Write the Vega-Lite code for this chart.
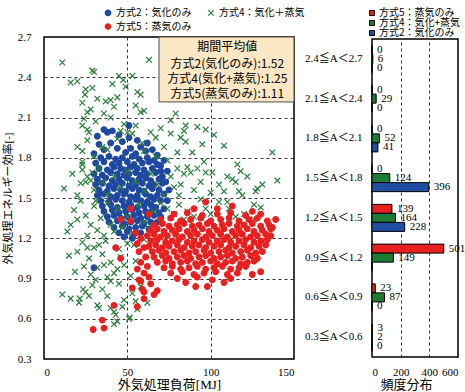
{
"$schema":"https://vega.github.io/schema/vega-lite/v6.json",
"padding":{"left":1,"top":6,"right":0,"bottom":0},
"spacing":78,
"bounds":"flush",
"center":true,
"resolve":{"scale":{"fill":"independent","stroke":"independent","shape":"independent","x":"independent","y":"independent"},"legend":{"fill":"independent","stroke":"independent","shape":"independent"}},
"config":{"view":{"stroke":"#000","strokeWidth":1.5},
"axis":{"ticks":false,"domain":false,"labelFont":"Liberation Serif","labelFontSize":11,"labelColor":"#000","titleFont":"Liberation Serif, Noto Sans CJK JP","titleFontWeight":"normal","titleColor":"#000","titleFontSize":13,"gridColor":"#333","gridDash":[3,3],"gridOpacity":1,"gridWidth":1}},
"datasets":{
"pts":[
{"s":"2","x":51,"y":2.04},{"s":"2","x":41,"y":2.0},{"s":"2","x":38,"y":1.99},{"s":"2","x":32,"y":1.96},{"s":"2","x":51,"y":1.95},{"s":"2","x":36,"y":2.01},{"s":"2","x":45,"y":1.97},{"s":"2","x":56,"y":1.93},{"s":"2","x":62,"y":1.91},{"s":"2","x":47,"y":1.92},{"s":"2","x":33,"y":1.9},{"s":"2","x":40,"y":1.91},{"s":"2","x":58,"y":1.88},{"s":"2","x":65,"y":1.86},{"s":"2","x":68,"y":1.82},{"s":"2","x":44,"y":1.87},{"s":"2","x":52,"y":1.87},{"s":"2","x":36,"y":1.86},{"s":"2","x":30,"y":1.83},{"s":"2","x":49,"y":1.84},{"s":"2","x":55,"y":1.83},{"s":"2","x":61,"y":1.85},{"s":"2","x":72,"y":1.78},{"s":"2","x":70,"y":1.74},{"s":"2","x":74,"y":1.7},{"s":"2","x":73,"y":1.62},{"s":"2","x":75,"y":1.56},{"s":"2","x":74,"y":1.48},{"s":"2","x":72,"y":1.42},{"s":"2","x":70,"y":1.36},{"s":"2","x":68,"y":1.32},
{"s":"2","x":34,"y":1.8},{"s":"2","x":39,"y":1.81},{"s":"2","x":43,"y":1.79},{"s":"2","x":47,"y":1.8},{"s":"2","x":53,"y":1.81},{"s":"2","x":57,"y":1.79},{"s":"2","x":62,"y":1.8},{"s":"2","x":66,"y":1.78},
{"s":"2","x":31,"y":1.76},{"s":"2","x":36,"y":1.77},{"s":"2","x":41,"y":1.75},{"s":"2","x":45,"y":1.76},{"s":"2","x":50,"y":1.77},{"s":"2","x":54,"y":1.75},{"s":"2","x":59,"y":1.76},{"s":"2","x":63,"y":1.77},{"s":"2","x":68,"y":1.75},
{"s":"2","x":33,"y":1.72},{"s":"2","x":38,"y":1.71},{"s":"2","x":42,"y":1.73},{"s":"2","x":46,"y":1.72},{"s":"2","x":49,"y":1.71},{"s":"2","x":52,"y":1.73},{"s":"2","x":56,"y":1.72},{"s":"2","x":60,"y":1.71},{"s":"2","x":65,"y":1.72},{"s":"2","x":70,"y":1.7},
{"s":"2","x":30,"y":1.68},{"s":"2","x":35,"y":1.67},{"s":"2","x":40,"y":1.69},{"s":"2","x":44,"y":1.68},{"s":"2","x":48,"y":1.67},{"s":"2","x":51,"y":1.68},{"s":"2","x":55,"y":1.69},{"s":"2","x":58,"y":1.67},{"s":"2","x":62,"y":1.68},{"s":"2","x":67,"y":1.69},{"s":"2","x":71,"y":1.66},
{"s":"2","x":32,"y":1.64},{"s":"2","x":37,"y":1.65},{"s":"2","x":41,"y":1.63},{"s":"2","x":45,"y":1.64},{"s":"2","x":50,"y":1.65},{"s":"2","x":53,"y":1.63},{"s":"2","x":57,"y":1.64},{"s":"2","x":61,"y":1.65},{"s":"2","x":64,"y":1.63},{"s":"2","x":69,"y":1.64},
{"s":"2","x":31,"y":1.6},{"s":"2","x":35,"y":1.61},{"s":"2","x":39,"y":1.59},{"s":"2","x":43,"y":1.6},{"s":"2","x":47,"y":1.61},{"s":"2","x":51,"y":1.59},{"s":"2","x":55,"y":1.6},{"s":"2","x":59,"y":1.61},{"s":"2","x":63,"y":1.59},{"s":"2","x":66,"y":1.6},{"s":"2","x":71,"y":1.61},
{"s":"2","x":33,"y":1.56},{"s":"2","x":38,"y":1.55},{"s":"2","x":42,"y":1.57},{"s":"2","x":46,"y":1.56},{"s":"2","x":49,"y":1.55},{"s":"2","x":53,"y":1.57},{"s":"2","x":57,"y":1.56},{"s":"2","x":60,"y":1.55},{"s":"2","x":65,"y":1.57},{"s":"2","x":69,"y":1.56},
{"s":"2","x":32,"y":1.52},{"s":"2","x":36,"y":1.53},{"s":"2","x":40,"y":1.51},{"s":"2","x":44,"y":1.52},{"s":"2","x":48,"y":1.53},{"s":"2","x":52,"y":1.51},{"s":"2","x":56,"y":1.52},{"s":"2","x":61,"y":1.53},{"s":"2","x":64,"y":1.51},{"s":"2","x":68,"y":1.52},{"s":"2","x":72,"y":1.53},
{"s":"2","x":34,"y":1.48},{"s":"2","x":39,"y":1.47},{"s":"2","x":43,"y":1.49},{"s":"2","x":47,"y":1.48},{"s":"2","x":51,"y":1.47},{"s":"2","x":55,"y":1.49},{"s":"2","x":58,"y":1.48},{"s":"2","x":62,"y":1.47},{"s":"2","x":66,"y":1.49},{"s":"2","x":70,"y":1.48},
{"s":"2","x":35,"y":1.44},{"s":"2","x":40,"y":1.45},{"s":"2","x":44,"y":1.43},{"s":"2","x":48,"y":1.44},{"s":"2","x":52,"y":1.45},{"s":"2","x":56,"y":1.43},{"s":"2","x":60,"y":1.44},{"s":"2","x":64,"y":1.45},{"s":"2","x":67,"y":1.43},
{"s":"2","x":36,"y":1.4},{"s":"2","x":41,"y":1.41},{"s":"2","x":45,"y":1.39},{"s":"2","x":49,"y":1.4},{"s":"2","x":53,"y":1.41},{"s":"2","x":57,"y":1.39},{"s":"2","x":61,"y":1.4},{"s":"2","x":65,"y":1.41},{"s":"2","x":69,"y":1.39},
{"s":"2","x":38,"y":1.36},{"s":"2","x":42,"y":1.37},{"s":"2","x":46,"y":1.35},{"s":"2","x":50,"y":1.36},{"s":"2","x":54,"y":1.37},{"s":"2","x":58,"y":1.35},{"s":"2","x":62,"y":1.36},{"s":"2","x":66,"y":1.37},
{"s":"2","x":39,"y":1.32},{"s":"2","x":44,"y":1.33},{"s":"2","x":48,"y":1.31},{"s":"2","x":52,"y":1.32},{"s":"2","x":56,"y":1.33},{"s":"2","x":60,"y":1.31},{"s":"2","x":64,"y":1.32},
{"s":"2","x":42,"y":1.28},{"s":"2","x":47,"y":1.29},{"s":"2","x":51,"y":1.27},{"s":"2","x":55,"y":1.28},{"s":"2","x":59,"y":1.29},{"s":"2","x":63,"y":1.27},
{"s":"2","x":45,"y":1.24},{"s":"2","x":50,"y":1.25},{"s":"2","x":54,"y":1.23},{"s":"2","x":58,"y":1.24},{"s":"2","x":48,"y":1.21},{"s":"2","x":53,"y":1.2},{"s":"2","x":33,"y":1.53},{"s":"2","x":30,"y":0.98},
{"s":"4","x":11,"y":2.51},{"s":"4","x":63,"y":2.53},{"s":"4","x":29,"y":2.45},{"s":"4","x":30,"y":2.44},{"s":"4","x":45,"y":2.41},{"s":"4","x":53,"y":2.41},{"s":"4","x":47.5,"y":2.38},{"s":"4","x":16,"y":2.36},{"s":"4","x":20,"y":2.37},{"s":"4","x":25,"y":2.31},{"s":"4","x":29,"y":2.32},{"s":"4","x":41,"y":2.35},{"s":"4","x":49,"y":2.33},{"s":"4","x":24.6,"y":2.27},{"s":"4","x":32,"y":2.24},{"s":"4","x":23,"y":2.21},{"s":"4","x":37,"y":2.22},{"s":"4","x":40,"y":2.23},{"s":"4","x":44,"y":2.25},{"s":"4","x":56,"y":2.29},{"s":"4","x":58,"y":2.27},{"s":"4","x":55,"y":2.19},{"s":"4","x":58,"y":2.14},{"s":"4","x":60,"y":2.15},{"s":"4","x":42,"y":2.18},{"s":"4","x":26,"y":2.14},{"s":"4","x":28,"y":2.16},{"s":"4","x":79,"y":2.13},
{"s":"4","x":24,"y":2.09},{"s":"4","x":36,"y":2.13},{"s":"4","x":40,"y":2.1},{"s":"4","x":23,"y":2.04},{"s":"4","x":26,"y":2.01},{"s":"4","x":27,"y":1.99},{"s":"4","x":31,"y":2.07},{"s":"4","x":48,"y":2.05},{"s":"4","x":50,"y":1.99},{"s":"4","x":55,"y":2.04},{"s":"4","x":53,"y":1.98},{"s":"4","x":46,"y":2.0},{"s":"4","x":44,"y":1.94},{"s":"4","x":20,"y":1.88},{"s":"4","x":23,"y":1.85},{"s":"4","x":35,"y":1.88},{"s":"4","x":38,"y":1.86},{"s":"4","x":59,"y":1.91},{"s":"4","x":67,"y":1.81},{"s":"4","x":76,"y":2.08},{"s":"4","x":85,"y":2.04},{"s":"4","x":92,"y":2.03},{"s":"4","x":97,"y":2.01},{"s":"4","x":76,"y":1.98},{"s":"4","x":84,"y":2.0},{"s":"4","x":102,"y":1.97},{"s":"4","x":67,"y":1.95},{"s":"4","x":85,"y":1.92},{"s":"4","x":108,"y":1.89},{"s":"4","x":80,"y":1.84},{"s":"4","x":89,"y":1.84},{"s":"4","x":137,"y":1.84},{"s":"4","x":64,"y":1.99},{"s":"4","x":70,"y":2.02},{"s":"4","x":26,"y":1.93},{"s":"4","x":30,"y":1.81},{"s":"4","x":60,"y":1.85},{"s":"4","x":72,"y":1.88},{"s":"4","x":95,"y":1.9},{"s":"4","x":82,"y":1.95},
{"s":"4","x":23,"y":1.75},{"s":"4","x":23,"y":1.71},{"s":"4","x":22,"y":1.61},{"s":"4","x":25,"y":1.62},{"s":"4","x":28,"y":1.63},{"s":"4","x":29,"y":1.69},{"s":"4","x":12,"y":1.57},{"s":"4","x":23,"y":1.77},{"s":"4","x":26,"y":1.66},{"s":"4","x":30,"y":1.56},{"s":"4","x":33,"y":1.72},{"s":"4","x":35,"y":1.62},{"s":"4","x":38,"y":1.53},{"s":"4","x":42,"y":1.66},{"s":"4","x":46,"y":1.58},{"s":"4","x":50,"y":1.7},{"s":"4","x":55,"y":1.62},{"s":"4","x":60,"y":1.55},{"s":"4","x":64,"y":1.68},{"s":"4","x":68,"y":1.6},{"s":"4","x":72,"y":1.52},{"s":"4","x":76,"y":1.66},{"s":"4","x":80,"y":1.72},{"s":"4","x":84,"y":1.68},{"s":"4","x":88,"y":1.69},{"s":"4","x":92,"y":1.72},{"s":"4","x":86,"y":1.73},{"s":"4","x":96,"y":1.77},{"s":"4","x":97,"y":1.69},{"s":"4","x":101,"y":1.69},{"s":"4","x":105,"y":1.6},{"s":"4","x":82,"y":1.6},{"s":"4","x":81,"y":1.52},{"s":"4","x":116,"y":1.75},{"s":"4","x":118,"y":1.7},{"s":"4","x":122,"y":1.66},{"s":"4","x":140,"y":1.63},{"s":"4","x":113,"y":1.64},{"s":"4","x":115,"y":1.62},{"s":"4","x":128,"y":1.57},{"s":"4","x":127,"y":1.55},{"s":"4","x":117,"y":1.55},{"s":"4","x":119,"y":1.52},{"s":"4","x":78,"y":1.58},{"s":"4","x":74,"y":1.78},{"s":"4","x":90,"y":1.56},{"s":"4","x":94,"y":1.62},{"s":"4","x":100,"y":1.54},{"s":"4","x":108,"y":1.55},{"s":"4","x":110,"y":1.66},{"s":"4","x":131,"y":1.6},{"s":"4","x":20,"y":1.52},{"s":"4","x":17,"y":1.68},
{"s":"4","x":18,"y":1.41},{"s":"4","x":14,"y":1.25},{"s":"4","x":20,"y":1.34},{"s":"4","x":25,"y":1.37},{"s":"4","x":28,"y":1.3},{"s":"4","x":30,"y":1.44},{"s":"4","x":32,"y":1.26},{"s":"4","x":34,"y":1.35},{"s":"4","x":36,"y":1.22},{"s":"4","x":40,"y":1.3},{"s":"4","x":44,"y":1.42},{"s":"4","x":47,"y":1.28},{"s":"4","x":50,"y":1.36},{"s":"4","x":53,"y":1.24},{"s":"4","x":57,"y":1.45},{"s":"4","x":60,"y":1.32},{"s":"4","x":63,"y":1.27},{"s":"4","x":66,"y":1.4},{"s":"4","x":70,"y":1.46},{"s":"4","x":74,"y":1.42},{"s":"4","x":78,"y":1.38},{"s":"4","x":81,"y":1.45},{"s":"4","x":86,"y":1.4},{"s":"4","x":94,"y":1.49},{"s":"4","x":97,"y":1.42},{"s":"4","x":105,"y":1.47},{"s":"4","x":110,"y":1.47},{"s":"4","x":111,"y":1.42},{"s":"4","x":126,"y":1.45},{"s":"4","x":130,"y":1.43},{"s":"4","x":120,"y":1.38},{"s":"4","x":115,"y":1.36},{"s":"4","x":90,"y":1.36},{"s":"4","x":84,"y":1.34},{"s":"4","x":126,"y":1.34},{"s":"4","x":100,"y":1.38},{"s":"4","x":22,"y":1.48},{"s":"4","x":26,"y":1.22},{"s":"4","x":38,"y":1.46},{"s":"4","x":42,"y":1.25},{"s":"4","x":31,"y":1.48},{"s":"4","x":16,"y":1.3},
{"s":"4","x":18.6,"y":0.95},{"s":"4","x":24,"y":0.99},{"s":"4","x":20,"y":1.1},{"s":"4","x":23,"y":1.17},{"s":"4","x":27,"y":1.05},{"s":"4","x":30,"y":1.13},{"s":"4","x":32,"y":0.98},{"s":"4","x":35,"y":1.08},{"s":"4","x":37,"y":1.18},{"s":"4","x":40,"y":1.02},{"s":"4","x":42,"y":0.94},{"s":"4","x":45,"y":1.12},{"s":"4","x":48,"y":1.0},{"s":"4","x":50,"y":1.16},{"s":"4","x":52,"y":0.92},{"s":"4","x":28,"y":0.93},{"s":"4","x":33,"y":1.15},{"s":"4","x":38,"y":0.91},{"s":"4","x":46,"y":1.06},{"s":"4","x":26,"y":1.13},{"s":"4","x":15,"y":1.07},{"s":"4","x":36,"y":1.0},{"s":"4","x":44,"y":0.97},{"s":"4","x":55,"y":1.03},{"s":"4","x":60,"y":1.19},{"s":"4","x":54,"y":1.15},
{"s":"4","x":11,"y":0.78},{"s":"4","x":16,"y":0.75},{"s":"4","x":21.5,"y":0.75},{"s":"4","x":23.5,"y":0.82},{"s":"4","x":25,"y":0.8},{"s":"4","x":32,"y":0.7},{"s":"4","x":42,"y":0.65},{"s":"4","x":51.5,"y":0.61},{"s":"4","x":21,"y":0.72},{"s":"4","x":33,"y":0.68},{"s":"4","x":40,"y":0.68},{"s":"4","x":43,"y":0.63},{"s":"4","x":51,"y":0.6},{"s":"4","x":62,"y":0.72},{"s":"4","x":56,"y":0.67},{"s":"4","x":29,"y":0.85},{"s":"4","x":35,"y":0.82},{"s":"4","x":38,"y":0.77},{"s":"4","x":45,"y":0.86},{"s":"4","x":48,"y":0.74},{"s":"4","x":53,"y":0.79},{"s":"4","x":58,"y":0.84},{"s":"4","x":47,"y":0.69},{"s":"4","x":55,"y":0.73},{"s":"4","x":40,"y":0.88},{"s":"4","x":31,"y":0.89},{"s":"4","x":27,"y":0.77},{"s":"4","x":42,"y":0.56},{"s":"4","x":44,"y":0.58},
{"s":"5","x":78,"y":1.38},{"s":"5","x":86,"y":1.39},{"s":"5","x":95,"y":1.37},{"s":"5","x":104,"y":1.38},{"s":"5","x":112,"y":1.39},{"s":"5","x":121,"y":1.37},{"s":"5","x":130,"y":1.38},
{"s":"5","x":70,"y":1.34},{"s":"5","x":76,"y":1.35},{"s":"5","x":82,"y":1.33},{"s":"5","x":88,"y":1.34},{"s":"5","x":94,"y":1.35},{"s":"5","x":100,"y":1.33},{"s":"5","x":106,"y":1.34},{"s":"5","x":111,"y":1.35},{"s":"5","x":117,"y":1.33},{"s":"5","x":123,"y":1.34},{"s":"5","x":128,"y":1.35},{"s":"5","x":134,"y":1.33},
{"s":"5","x":66,"y":1.3},{"s":"5","x":71,"y":1.31},{"s":"5","x":75,"y":1.29},{"s":"5","x":80,"y":1.3},{"s":"5","x":84,"y":1.31},{"s":"5","x":89,"y":1.29},{"s":"5","x":93,"y":1.3},{"s":"5","x":98,"y":1.31},{"s":"5","x":102,"y":1.29},{"s":"5","x":107,"y":1.3},{"s":"5","x":111,"y":1.31},{"s":"5","x":116,"y":1.29},{"s":"5","x":120,"y":1.3},{"s":"5","x":125,"y":1.31},{"s":"5","x":130,"y":1.29},{"s":"5","x":135,"y":1.3},
{"s":"5","x":64,"y":1.26},{"s":"5","x":68,"y":1.27},{"s":"5","x":72,"y":1.25},{"s":"5","x":77,"y":1.26},{"s":"5","x":81,"y":1.27},{"s":"5","x":86,"y":1.25},{"s":"5","x":90,"y":1.26},{"s":"5","x":95,"y":1.27},{"s":"5","x":99,"y":1.25},{"s":"5","x":104,"y":1.26},{"s":"5","x":108,"y":1.27},{"s":"5","x":113,"y":1.25},{"s":"5","x":117,"y":1.26},{"s":"5","x":122,"y":1.27},{"s":"5","x":126,"y":1.25},{"s":"5","x":131,"y":1.26},{"s":"5","x":136,"y":1.27},
{"s":"5","x":62,"y":1.22},{"s":"5","x":66,"y":1.23},{"s":"5","x":70,"y":1.21},{"s":"5","x":74,"y":1.22},{"s":"5","x":79,"y":1.23},{"s":"5","x":83,"y":1.21},{"s":"5","x":88,"y":1.22},{"s":"5","x":92,"y":1.23},{"s":"5","x":97,"y":1.21},{"s":"5","x":101,"y":1.22},{"s":"5","x":106,"y":1.23},{"s":"5","x":110,"y":1.21},{"s":"5","x":115,"y":1.22},{"s":"5","x":119,"y":1.23},{"s":"5","x":124,"y":1.21},{"s":"5","x":128,"y":1.22},{"s":"5","x":133,"y":1.23},
{"s":"5","x":64,"y":1.18},{"s":"5","x":68,"y":1.19},{"s":"5","x":73,"y":1.17},{"s":"5","x":77,"y":1.18},{"s":"5","x":81,"y":1.19},{"s":"5","x":86,"y":1.17},{"s":"5","x":90,"y":1.18},{"s":"5","x":95,"y":1.19},{"s":"5","x":99,"y":1.17},{"s":"5","x":104,"y":1.18},{"s":"5","x":108,"y":1.19},{"s":"5","x":112,"y":1.17},{"s":"5","x":117,"y":1.18},{"s":"5","x":121,"y":1.19},{"s":"5","x":126,"y":1.17},{"s":"5","x":130,"y":1.18},{"s":"5","x":134,"y":1.19},
{"s":"5","x":63,"y":1.14},{"s":"5","x":67,"y":1.15},{"s":"5","x":71,"y":1.13},{"s":"5","x":75,"y":1.14},{"s":"5","x":80,"y":1.15},{"s":"5","x":84,"y":1.13},{"s":"5","x":89,"y":1.14},{"s":"5","x":93,"y":1.15},{"s":"5","x":97,"y":1.13},{"s":"5","x":102,"y":1.14},{"s":"5","x":106,"y":1.15},{"s":"5","x":111,"y":1.13},{"s":"5","x":115,"y":1.14},{"s":"5","x":120,"y":1.15},{"s":"5","x":124,"y":1.13},{"s":"5","x":129,"y":1.14},{"s":"5","x":133,"y":1.15},
{"s":"5","x":65,"y":1.1},{"s":"5","x":69,"y":1.11},{"s":"5","x":73,"y":1.09},{"s":"5","x":78,"y":1.1},{"s":"5","x":82,"y":1.11},{"s":"5","x":87,"y":1.09},{"s":"5","x":91,"y":1.1},{"s":"5","x":96,"y":1.11},{"s":"5","x":100,"y":1.09},{"s":"5","x":105,"y":1.1},{"s":"5","x":109,"y":1.11},{"s":"5","x":113,"y":1.09},{"s":"5","x":118,"y":1.1},{"s":"5","x":122,"y":1.11},{"s":"5","x":127,"y":1.09},{"s":"5","x":131,"y":1.1},
{"s":"5","x":66,"y":1.06},{"s":"5","x":71,"y":1.07},{"s":"5","x":75,"y":1.05},{"s":"5","x":80,"y":1.06},{"s":"5","x":84,"y":1.07},{"s":"5","x":88,"y":1.05},{"s":"5","x":93,"y":1.06},{"s":"5","x":97,"y":1.07},{"s":"5","x":102,"y":1.05},{"s":"5","x":106,"y":1.06},{"s":"5","x":110,"y":1.07},{"s":"5","x":115,"y":1.05},{"s":"5","x":119,"y":1.06},{"s":"5","x":124,"y":1.07},{"s":"5","x":128,"y":1.05},
{"s":"5","x":68,"y":1.02},{"s":"5","x":73,"y":1.03},{"s":"5","x":77,"y":1.01},{"s":"5","x":82,"y":1.02},{"s":"5","x":86,"y":1.03},{"s":"5","x":91,"y":1.01},{"s":"5","x":95,"y":1.02},{"s":"5","x":100,"y":1.03},{"s":"5","x":104,"y":1.01},{"s":"5","x":109,"y":1.02},{"s":"5","x":113,"y":1.03},{"s":"5","x":118,"y":1.01},{"s":"5","x":122,"y":1.02},{"s":"5","x":126,"y":1.03},
{"s":"5","x":72,"y":0.98},{"s":"5","x":77,"y":0.99},{"s":"5","x":82,"y":0.97},{"s":"5","x":87,"y":0.98},{"s":"5","x":92,"y":0.99},{"s":"5","x":97,"y":0.97},{"s":"5","x":102,"y":0.98},{"s":"5","x":107,"y":0.99},{"s":"5","x":112,"y":0.97},{"s":"5","x":117,"y":0.98},{"s":"5","x":121,"y":0.99},
{"s":"5","x":76,"y":0.94},{"s":"5","x":83,"y":0.95},{"s":"5","x":90,"y":0.93},{"s":"5","x":96,"y":0.94},{"s":"5","x":103,"y":0.95},{"s":"5","x":110,"y":0.93},{"s":"5","x":116,"y":0.94},{"s":"5","x":80,"y":0.9},{"s":"5","x":92,"y":0.91},{"s":"5","x":101,"y":0.89},{"s":"5","x":112,"y":0.9},
{"s":"5","x":97,"y":1.47},{"s":"5","x":104,"y":1.42},{"s":"5","x":139,"y":1.34},{"s":"5","x":137,"y":1.28},{"s":"5","x":136,"y":1.22},{"s":"5","x":113,"y":1.44},{"s":"5","x":90,"y":1.42},{"s":"5","x":125,"y":1.4},{"s":"5","x":91,"y":0.84},{"s":"5","x":98,"y":0.84},{"s":"5","x":68,"y":0.81},{"s":"5","x":125,"y":0.93},{"s":"5","x":130,"y":0.95},{"s":"5","x":108,"y":0.87},{"s":"5","x":85,"y":0.87},
{"s":"5","x":52,"y":1.42},{"s":"5","x":46,"y":1.34},{"s":"5","x":52,"y":1.33},{"s":"5","x":63,"y":1.38},{"s":"5","x":43,"y":1.13},{"s":"5","x":46,"y":1.05},{"s":"5","x":57,"y":0.89},{"s":"5","x":53,"y":0.83},{"s":"5","x":59,"y":0.82},{"s":"5","x":60,"y":0.75},{"s":"5","x":42,"y":0.7},{"s":"5","x":56,"y":0.69},{"s":"5","x":35,"y":0.59},{"s":"5","x":29.5,"y":0.52},{"s":"5","x":36,"y":0.53},
{"s":"5","x":55,"y":1.24},{"s":"5","x":58,"y":1.2},{"s":"5","x":56,"y":1.16},{"s":"5","x":60,"y":1.13},{"s":"5","x":57,"y":1.1},{"s":"5","x":61,"y":1.06},{"s":"5","x":58,"y":1.02},{"s":"5","x":62,"y":0.99},{"s":"5","x":56,"y":0.97},{"s":"5","x":60,"y":0.94},{"s":"5","x":63,"y":0.91},{"s":"5","x":58,"y":0.88},{"s":"5","x":64,"y":0.86},{"s":"5","x":60,"y":0.8},{"s":"5","x":66,"y":0.78}
],
"box":[{"x":69,"x2":150,"y":2.216,"y2":2.7}],
"lines":[{"t":"期間平均値","x":110,"y":2.625},{"t":"方式2(気化のみ):1.52","x":110,"y":2.499},{"t":"方式4(気化+蒸気):1.25","x":110,"y":2.387},{"t":"方式5(蒸気のみ):1.11","x":110,"y":2.275}],
"hist":[
{"c":"2.4≦A＜2.7","s":"5","n":0},{"c":"2.4≦A＜2.7","s":"4","n":6},{"c":"2.4≦A＜2.7","s":"2","n":0},
{"c":"2.1≦A＜2.4","s":"5","n":0},{"c":"2.1≦A＜2.4","s":"4","n":29},{"c":"2.1≦A＜2.4","s":"2","n":0},
{"c":"1.8≦A＜2.1","s":"5","n":0},{"c":"1.8≦A＜2.1","s":"4","n":52},{"c":"1.8≦A＜2.1","s":"2","n":41},
{"c":"1.5≦A＜1.8","s":"5","n":0},{"c":"1.5≦A＜1.8","s":"4","n":124},{"c":"1.5≦A＜1.8","s":"2","n":396},
{"c":"1.2≦A＜1.5","s":"5","n":139},{"c":"1.2≦A＜1.5","s":"4","n":164},{"c":"1.2≦A＜1.5","s":"2","n":228},
{"c":"0.9≦A＜1.2","s":"5","n":501},{"c":"0.9≦A＜1.2","s":"4","n":149},{"c":"0.9≦A＜1.2","s":"2","n":1},
{"c":"0.6≦A＜0.9","s":"5","n":23},{"c":"0.6≦A＜0.9","s":"4","n":87},{"c":"0.6≦A＜0.9","s":"2","n":0},
{"c":"0.3≦A＜0.6","s":"5","n":3},{"c":"0.3≦A＜0.6","s":"4","n":2},{"c":"0.3≦A＜0.6","s":"2","n":0}
]},
"hconcat":[
{"width":250,"height":322,
"layer":[
{"data":{"name":"pts"},"mark":{"type":"point","opacity":1,"size":32,"strokeWidth":1.2,"clip":true},
"encoding":{
"x":{"field":"x","type":"quantitative","scale":{"domain":[0,150],"nice":false,"zero":false},"axis":{"values":[0,50,100,150],"title":"外気処理負荷[MJ]","labelPadding":7,"titlePadding":1,"grid":true}},
"y":{"field":"y","type":"quantitative","scale":{"domain":[0.3,2.7],"nice":false,"zero":false},"axis":{"values":[0.3,0.6,0.9,1.2,1.5,1.8,2.1,2.4,2.7],"format":".1f","title":"外気処理エネルギー効率[-]","titleFontSize":11,"labelPadding":13,"titlePadding":4,"grid":true}},
"fill":{"field":"s","type":"nominal","scale":{"domain":["2","4","5"],"range":["#1f49a0","transparent","#e8201f"]},"legend":{"orient":"none","legendX":59,"legendY":-29.5,"title":null,"direction":"horizontal","columns":2,"labelFont":"Noto Sans CJK JP","labelFontSize":10,"labelColor":"#000","labelOffset":3,"columnPadding":13,"rowPadding":2,"symbolSize":30,"symbolStrokeWidth":1.2,"padding":0,"labelExpr":"datum.label == '2' ? '方式2：気化のみ' : datum.label == '4' ? '方式4：気化＋蒸気' : '方式5：蒸気のみ'"}},
"stroke":{"field":"s","type":"nominal","scale":{"domain":["2","4","5"],"range":["#1f49a0","#2a7d3c","#e8201f"]},"legend":{"orient":"none","legendX":59,"legendY":-29.5,"title":null,"direction":"horizontal","columns":2,"labelFont":"Noto Sans CJK JP","labelFontSize":10,"labelColor":"#000","labelOffset":3,"columnPadding":13,"rowPadding":2,"symbolSize":30,"symbolStrokeWidth":1.2,"padding":0,"labelExpr":"datum.label == '2' ? '方式2：気化のみ' : datum.label == '4' ? '方式4：気化＋蒸気' : '方式5：蒸気のみ'"}},
"shape":{"field":"s","type":"nominal","scale":{"domain":["2","4","5"],"range":["circle","M-1,-1L1,1M-1,1L1,-1","circle"]},"legend":{"orient":"none","legendX":59,"legendY":-29.5,"title":null,"direction":"horizontal","columns":2,"labelFont":"Noto Sans CJK JP","labelFontSize":10,"labelColor":"#000","labelOffset":3,"columnPadding":13,"rowPadding":2,"symbolSize":30,"symbolStrokeWidth":1.2,"padding":0,"labelExpr":"datum.label == '2' ? '方式2：気化のみ' : datum.label == '4' ? '方式4：気化＋蒸気' : '方式5：蒸気のみ'"}}
}},
{"data":{"name":"box"},"mark":{"type":"rect","fill":"#fce8c4","stroke":"#4d4d4d","strokeWidth":1},
"encoding":{"x":{"field":"x","type":"quantitative"},"x2":{"field":"x2"},"y":{"field":"y","type":"quantitative"},"y2":{"field":"y2"}}},
{"data":{"name":"lines"},"mark":{"type":"text","font":"Noto Sans CJK JP","fontSize":12,"align":"center","baseline":"middle","color":"#000"},
"encoding":{"x":{"field":"x","type":"quantitative"},"y":{"field":"y","type":"quantitative"},"text":{"field":"t"}}}
]},
{"width":86,"height":318,"data":{"name":"hist"},
"encoding":{
"y":{"field":"c","type":"nominal","sort":["2.4≦A＜2.7","2.1≦A＜2.4","1.8≦A＜2.1","1.5≦A＜1.8","1.2≦A＜1.5","0.9≦A＜1.2","0.6≦A＜0.9","0.3≦A＜0.6"],"scale":{"paddingInner":0.32,"paddingOuter":0.16},"axis":{"title":null,"labelPadding":10,"labelFont":"Liberation Serif, Noto Sans CJK JP","labelFontSize":11}},
"yOffset":{"field":"s","type":"nominal","sort":["5","4","2"],"scale":{"paddingInner":0,"paddingOuter":0}},
"x":{"field":"n","type":"quantitative","scale":{"domain":[0,600],"nice":false},"axis":{"values":[0,200,400,600],"title":"頻度分布","grid":true,"labelPadding":9,"titlePadding":1,"titleX":34}}
},
"layer":[
{"mark":{"type":"bar","stroke":"#000","strokeWidth":1},
"encoding":{"fill":{"field":"s","type":"nominal","scale":{"domain":["5","4","2"],"range":["#e8201f","#1e7b34","#1f4ea3"]},"legend":{"orient":"none","legendX":-5,"legendY":-31,"title":null,"symbolType":"square","symbolSize":25,"symbolStrokeColor":"#000","symbolStrokeWidth":1,"labelFont":"Noto Sans CJK JP","labelFontSize":10,"labelColor":"#000","labelOffset":2,"rowPadding":-1.5,"padding":0,"labelExpr":"datum.label == '5' ? '方式5：蒸気のみ' : datum.label == '4' ? '方式4：気化+蒸気' : '方式2：気化のみ'"}}}},
{"transform":[{"filter":"!(datum.s == '2' && datum.c == '0.9≦A＜1.2')"}],
"mark":{"type":"text","align":"left","baseline":"middle","dx":5,"font":"Liberation Serif","fontSize":11,"color":"#000"},
"encoding":{"text":{"field":"n","type":"quantitative"}}}
]}
]
}
